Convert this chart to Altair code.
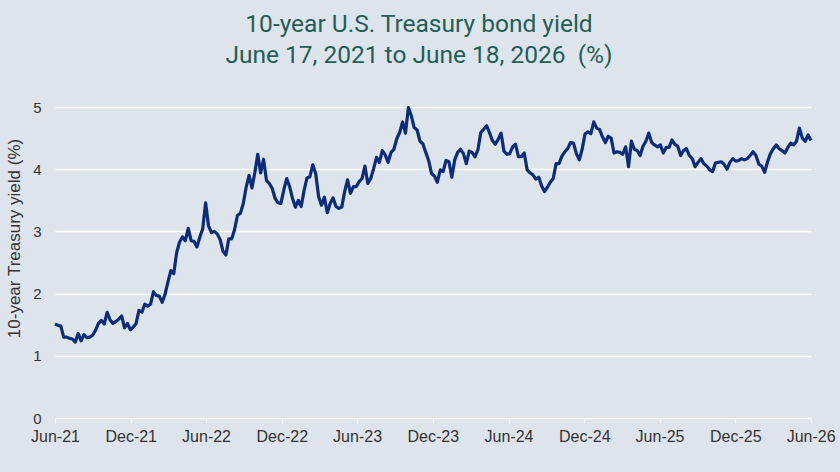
import altair as alt
import pandas as pd

title_lines = ["10-year U.S. Treasury bond yield", "June 17, 2021 to June 18, 2026\u00a0\u00a0(%)"]
y_title = "10-year Treasury yield (%)"
y_ticks = [0, 1, 2, 3, 4, 5]
x_tick_dates = [(2021, 6), (2021, 12), (2022, 6), (2022, 12), (2023, 6), (2023, 12),
                (2024, 6), (2024, 12), (2025, 6), (2025, 12), (2026, 6)]
start_date = "2021-06-17"
end_date = (2026, 6, 18)

# weekly readings (Thursdays) from Jun 17, 2021
y2021 = [1.51, 1.49, 1.48, 1.30, 1.30, 1.28, 1.27, 1.22, 1.36, 1.24, 1.34, 1.29, 1.30, 1.33,
         1.41, 1.52, 1.57, 1.51, 1.70, 1.58, 1.52, 1.55, 1.59, 1.64, 1.45, 1.52, 1.42, 1.46, 1.52]
y2022 = [1.73, 1.70, 1.83, 1.80, 1.83, 2.03, 1.97, 1.96, 1.86, 1.99, 2.19, 2.37, 2.32,
         2.66, 2.83, 2.91, 2.85, 3.05, 2.85, 2.84, 2.75, 2.91, 3.04, 3.46, 3.09, 2.98,
         3.00, 2.96, 2.87, 2.68, 2.62, 2.88, 2.88, 3.03, 3.26, 3.29, 3.45, 3.71, 3.90,
         3.70, 3.95, 4.24, 3.94, 4.16, 3.82, 3.77, 3.69, 3.53, 3.46, 3.45, 3.67, 3.85]
y2023 = [3.72, 3.53, 3.39, 3.50, 3.40, 3.66, 3.86, 3.88, 4.07, 3.93, 3.56, 3.42, 3.55,
         3.30, 3.45, 3.54, 3.40, 3.37, 3.39, 3.64, 3.83, 3.61, 3.72, 3.72, 3.80, 3.85,
         4.05, 3.77, 3.85, 4.01, 4.19, 4.11, 4.30, 4.23, 4.11, 4.27, 4.32, 4.49, 4.59,
         4.76, 4.58, 4.99, 4.86, 4.67, 4.63, 4.45, 4.41, 4.27, 4.14, 3.93, 3.89, 3.79]
y2024 = [3.99, 3.96, 4.14, 4.12, 3.87, 4.15, 4.27, 4.32, 4.25, 4.09, 4.29, 4.27, 4.20,
         4.31, 4.59, 4.64, 4.70, 4.59, 4.46, 4.40, 4.48, 4.58, 4.29, 4.24, 4.25, 4.36,
         4.40, 4.20, 4.20, 4.26, 3.99, 3.94, 3.91, 3.84, 3.87, 3.73, 3.64, 3.71, 3.79,
         3.85, 4.09, 4.09, 4.21, 4.28, 4.33, 4.43, 4.42, 4.25, 4.15, 4.32, 4.57, 4.60]
y2025 = [4.57, 4.76, 4.66, 4.64, 4.52, 4.43, 4.53, 4.50, 4.26, 4.28, 4.27, 4.24, 4.36,
         4.04, 4.45, 4.32, 4.30, 4.22, 4.37, 4.45, 4.58, 4.43, 4.39, 4.36, 4.39, 4.26,
         4.35, 4.35, 4.47, 4.40, 4.37, 4.22, 4.30, 4.33, 4.22, 4.17, 4.04, 4.11, 4.17,
         4.09, 4.05, 3.99, 3.96, 4.10, 4.11, 4.12, 4.08, 4.00, 4.11, 4.17, 4.13, 4.14]
y2026 = [4.17, 4.15, 4.17, 4.22, 4.28, 4.22, 4.08, 4.05, 3.95, 4.12, 4.25, 4.33, 4.39,
         4.33, 4.30, 4.26, 4.35, 4.42, 4.39, 4.45, 4.66, 4.50, 4.45, 4.55, 4.46]

values = y2021 + y2022 + y2023 + y2024 + y2025 + y2026
dates = pd.date_range(start_date, periods=len(values), freq="7D").strftime("%Y-%m-%d")
df = pd.DataFrame({"date": list(dates), "yield": values})

label_font = "Liberation Sans"
text_color = "#333333"

x_axis = alt.Axis(
    values=[alt.DateTime(year=y, month=m, date=17, utc=True) for y, m in x_tick_dates],
    format="%b-%y", title=None, grid=False, domain=False, ticks=True,
    tickColor="#f2f5f8", tickSize=5, tickWidth=1, labelPadding=5, labelFontSize=16,
    labelColor=text_color, labelFont=label_font, labelFlush=False, labelOverlap=False,
)
y_axis = alt.Axis(
    values=y_ticks, grid=True, gridColor="#ffffff", gridWidth=1.5, domain=False,
    ticks=False, labelPadding=14, labelFontSize=15, labelColor=text_color,
    labelFont=label_font, title=y_title, titleFont=label_font, titleFontSize=17,
    titleFontWeight="normal", titleColor=text_color, titleAngle=270,
    titleAlign="center", titleBaseline="middle", titleX=-41, titleY=131,
)

chart = alt.Chart(df).mark_line(
    color="#0b2b7c", strokeWidth=3.2, strokeJoin="round"
).encode(
    x=alt.X("date:T", axis=x_axis, scale=alt.Scale(
        type="utc",
        domain=[alt.DateTime(year=2021, month=6, date=17, utc=True),
                alt.DateTime(year=end_date[0], month=end_date[1], date=end_date[2], utc=True)])),
    y=alt.Y("yield:Q", axis=y_axis, scale=alt.Scale(domain=[0, 5], nice=False)),
).properties(
    width=756, height=311, background="#dee4ec", autosize="none",
    padding={"left": 55, "top": 107, "right": 29, "bottom": 54},
    title=alt.Title(text=title_lines, font="Roboto", fontSize=24.5, fontWeight="normal",
                    color="#1f5f58", anchor="middle", baseline="alphabetic",
                    offset=13, lineHeight=30.5, dx=-14),
).configure_view(stroke=None)

chart.save("out.html", embed_options={"renderer": "svg", "actions": False})
